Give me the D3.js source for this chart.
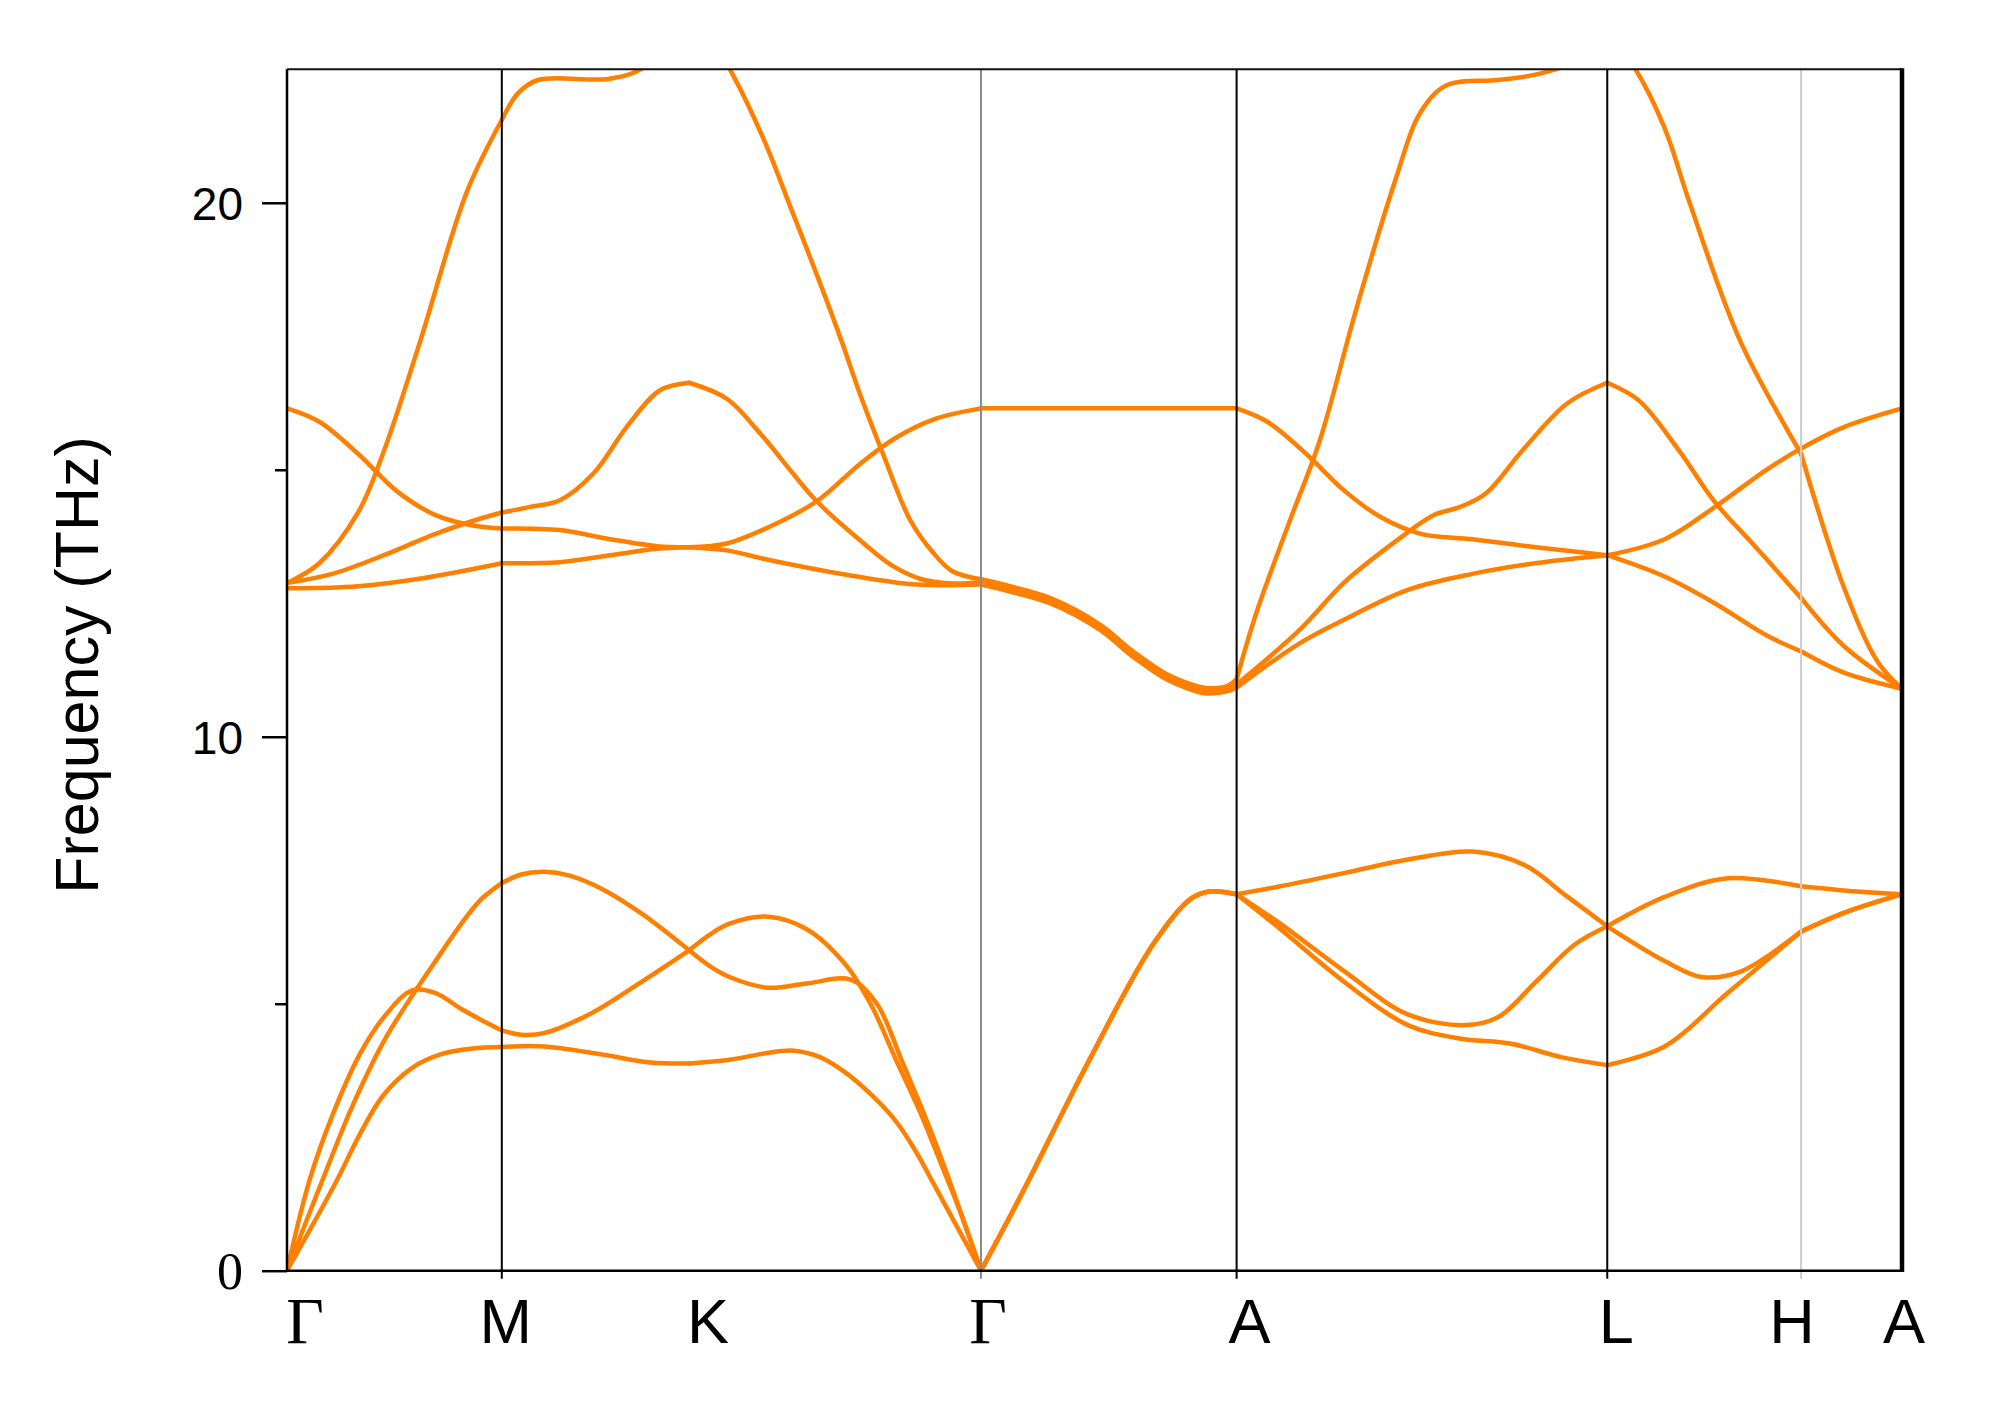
<!DOCTYPE html>
<html><head><meta charset="utf-8">
<script src="https://cdn.jsdelivr.net/npm/d3@7"></script>
<style>html,body{margin:0;padding:0;background:#fff;}</style>
</head><body>
<svg id="chart" width="2007" height="1413"></svg>
<script>
// ---------- DATA ----------
const kTicks = [0, 0.133, 0.249, 0.4297, 0.588, 0.8175, 0.9375, 1];
const kLabels = ["Γ", "M", "K", "Γ", "A", "L", "H", "A"];
const yMajorTicks = [0, 10, 20];
const yMinorTicks = [5, 15];
const yTitle = "Frequency (THz)";

const band1 = [[0,0],[0.031,1.7],[0.045,2.55],[0.060,3.3],[0.0775,3.8],[0.095,4.05],[0.115,4.16],[0.133,4.19],
  [0.159,4.2],[0.195,4.05],[0.225,3.9],[0.249,3.88],
  [0.274,3.95],[0.298,4.08],[0.3137,4.12],[0.330,4.0],[0.3454,3.72],[0.361,3.32],[0.377,2.8],[0.390,2.2],[0.400,1.65],[0.4297,0],
  [0.456,1.5],[0.496,3.9],[0.536,6.1],[0.559,6.95],[0.571,7.1],[0.588,7.05],
  [0.615,6.4],[0.655,5.4],[0.694,4.6],[0.726,4.35],[0.758,4.25],[0.789,4.0],[0.8175,3.85],
  [0.853,4.2],[0.892,5.2],[0.9375,6.35],
  [0.964,6.7],[1,7.05]];
const band2 = [[0,0],[0.014,1.7],[0.028,2.9],[0.045,4.05],[0.060,4.75],[0.0775,5.25],[0.092,5.2],[0.108,4.9],[0.120,4.7],[0.133,4.5],
  [0.145,4.42],[0.159,4.45],[0.187,4.8],[0.219,5.4],[0.249,6.0],
  [0.262,6.3],[0.274,6.5],[0.298,6.63],[0.3216,6.4],[0.3454,5.75],[0.3613,5.0],[0.3771,3.95],[0.393,2.9],[0.405,2.0],[0.4175,1.05],[0.4297,0],
  [0.456,1.5],[0.496,3.9],[0.536,6.1],[0.559,6.95],[0.571,7.1],[0.588,7.05],
  [0.615,6.5],[0.655,5.6],[0.694,4.8],[0.730,4.6],[0.750,4.75],[0.773,5.4],[0.797,6.1],[0.8175,6.45],
  [0.853,5.8],[0.876,5.5],[0.900,5.6],[0.9375,6.35],
  [0.964,6.7],[1,7.05]];
const band3 = [[0,0],[0.022,1.7],[0.040,3.05],[0.060,4.3],[0.0775,5.15],[0.092,5.8],[0.108,6.5],[0.120,6.95],[0.133,7.26],
  [0.145,7.42],[0.159,7.47],[0.175,7.4],[0.195,7.15],[0.219,6.7],[0.249,6.0],
  [0.262,5.7],[0.274,5.5],[0.298,5.3],[0.322,5.38],[0.349,5.45],[0.3652,5.0],[0.3811,3.9],[0.3969,2.75],[0.4088,1.8],[0.4297,0],
  [0.456,1.5],[0.496,3.9],[0.536,6.1],[0.559,6.95],[0.571,7.1],[0.588,7.05],
  [0.615,7.2],[0.655,7.45],[0.694,7.7],[0.734,7.85],[0.766,7.6],[0.793,7.0],[0.8175,6.45],
  [0.853,7.0],[0.892,7.35],[0.9375,7.2],
  [0.972,7.1],[1,7.05]];
const band4 = [[0,12.88],[0.020,13.25],[0.044,14.2],[0.060,15.35],[0.0824,17.4],[0.1113,20.2],[0.133,21.55],
  [0.143,22.05],[0.1554,22.3],[0.199,22.32],[0.219,22.5],[0.249,23.3],
  [0.262,23.1],[0.276,22.4],[0.295,21.2],[0.312,19.9],[0.330,18.5],[0.3435,17.4],[0.355,16.4],[0.369,15.3],[0.386,14.05],[0.400,13.45],[0.412,13.1],[0.4297,12.95],
  [0.4477,12.82],[0.4724,12.6],[0.5034,12.1],[0.5238,11.6],[0.5449,11.17],[0.561,10.97],[0.5697,10.91],[0.582,10.95],[0.588,11.08],
  [0.600,12.3],[0.621,14.05],[0.639,15.5],[0.662,18.0],[0.686,20.4],[0.702,21.7],[0.718,22.2],[0.750,22.3],[0.773,22.4],[0.793,22.6],[0.8175,23.2],
  [0.835,22.5],[0.853,21.4],[0.8685,20.0],[0.900,17.4],[0.9375,15.3],
  [0.964,12.8],[0.985,11.4],[1,10.9]];
const band5 = [[0,16.15],[0.020,15.9],[0.044,15.3],[0.068,14.6],[0.092,14.15],[0.116,13.95],[0.133,13.9],
  [0.169,13.87],[0.200,13.7],[0.229,13.57],[0.249,13.55],
  [0.2723,13.62],[0.300,13.95],[0.328,14.41],[0.3548,15.11],[0.377,15.6],[0.401,15.95],[0.4297,16.15],
  [0.500,16.15],[0.588,16.15],
  [0.607,15.9],[0.631,15.3],[0.655,14.6],[0.678,14.1],[0.702,13.8],[0.734,13.7],[0.773,13.55],[0.8175,13.4],
  [0.853,13.7],[0.884,14.3],[0.916,15.0],[0.9375,15.4],
  [0.964,15.8],[1,16.15]];
const band6 = [[0,12.88],[0.028,13.05],[0.060,13.4],[0.092,13.8],[0.116,14.05],[0.133,14.2],
  [0.150,14.3],[0.169,14.43],[0.1897,14.93],[0.2103,15.8],[0.231,16.49],[0.249,16.63],
  [0.2723,16.33],[0.293,15.68],[0.3133,14.93],[0.328,14.41],[0.3548,13.68],[0.375,13.2],[0.393,12.95],[0.413,12.87],[0.4297,12.9],
  [0.4477,12.77],[0.4724,12.55],[0.5034,12.05],[0.5238,11.55],[0.5449,11.12],[0.561,10.92],[0.5697,10.86],[0.582,10.9],[0.588,10.98],
  [0.627,12.0],[0.655,12.9],[0.686,13.65],[0.710,14.15],[0.726,14.3],[0.742,14.55],[0.766,15.4],[0.793,16.25],[0.8175,16.63],
  [0.837,16.3],[0.861,15.4],[0.884,14.4],[0.908,13.6],[0.9375,12.6],
  [0.964,11.7],[1,10.9]];
const band7 = [[0,12.78],[0.044,12.82],[0.084,12.97],[0.133,13.25],
  [0.169,13.27],[0.200,13.4],[0.229,13.52],[0.249,13.55],
  [0.2723,13.49],[0.300,13.3],[0.3548,12.99],[0.390,12.85],[0.4297,12.85],
  [0.4477,12.72],[0.4724,12.5],[0.5034,12.0],[0.5238,11.5],[0.5449,11.07],[0.561,10.87],[0.5697,10.81],[0.582,10.85],[0.588,10.92],
  [0.627,11.75],[0.655,12.2],[0.694,12.75],[0.734,13.05],[0.773,13.25],[0.8175,13.4],
  [0.853,13.0],[0.884,12.5],[0.916,11.9],[0.9375,11.6],
  [0.964,11.2],[1,10.9]];
const bands = [band1, band2, band3, band4, band5, band6, band7];

// ---------- LAYOUT / STYLE ----------
const W = 2007, H = 1413;
const plot = {left: 287, right: 1902, top: 69.3, bottom: 1270.7};
const bandColor = "#ff8000";
const tickLineColor = [null, "#000", null, "#8a8a8a", "#000", "#000", "#cdcdcd", null];
const labelShift = [18, 4, 19, 7, 13, 9, -9, 2];
const labelFont = ["Liberation Serif", "Liberation Sans", "Liberation Sans", "Liberation Serif",
                   "Liberation Sans", "Liberation Sans", "Liberation Sans", "Liberation Sans"];

const svg = d3.select("#chart");
const x = d3.scaleLinear().domain([0, 1]).range([plot.left, plot.right]);
const y = d3.scaleLinear().domain([0, 22.5]).range([plot.bottom, plot.top]);

svg.append("rect").attr("width", W).attr("height", H).attr("fill", "#fff");

svg.append("defs").append("clipPath").attr("id", "clip")
  .append("rect").attr("x", plot.left).attr("y", plot.top)
  .attr("width", plot.right - plot.left).attr("height", plot.bottom - plot.top);

// bands, drawn per segment between high-symmetry points
const line = d3.line().x(d => x(d[0])).y(d => y(d[1])).curve(d3.curveCatmullRom.alpha(0.5));
const g = svg.append("g").attr("clip-path", "url(#clip)");
bands.forEach(b => {
  for (let i = 0; i < kTicks.length - 1; i++) {
    const a = kTicks[i] - 1e-9, c = kTicks[i + 1] + 1e-9;
    const pts = b.filter(p => p[0] >= a && p[0] <= c);
    if (pts.length > 1) {
      g.append("path").attr("d", line(pts)).attr("fill", "none")
        .attr("stroke", bandColor).attr("stroke-width", 4.5)
        .attr("stroke-linejoin", "round").attr("stroke-linecap", "round");
    }
  }
});

// vertical high-symmetry lines
svg.append("g").selectAll("line")
  .data(kTicks.map((k, i) => ({k, c: tickLineColor[i]})).filter(d => d.c))
  .join("line")
  .attr("x1", d => x(d.k)).attr("x2", d => x(d.k))
  .attr("y1", plot.top).attr("y2", plot.bottom + 8)
  .attr("stroke", d => d.c).attr("stroke-width", 2);

// y axis (major + minor)
const yAxis = d3.axisLeft(y).tickValues(yMajorTicks).tickSize(25).tickPadding(19).tickFormat(d3.format("d"));
const ga = svg.append("g").attr("transform", `translate(${plot.left},0)`).call(yAxis);
ga.select(".domain").remove();
ga.selectAll(".tick line").attr("stroke", "#000").attr("stroke-width", 2.5);
ga.selectAll(".tick text").attr("fill", "#000")
  .style("font-family", d => d === 0 ? "Liberation Serif" : "Liberation Sans")
  .style("font-size", d => d === 0 ? "52px" : "46px")
  .attr("dy", d => d === 0 ? "0.34em" : "0.36em");
const yMinor = d3.axisLeft(y).tickValues(yMinorTicks).tickSize(12).tickFormat("");
const gm = svg.append("g").attr("transform", `translate(${plot.left},0)`).call(yMinor);
gm.select(".domain").remove();
gm.selectAll(".tick line").attr("stroke", "#000").attr("stroke-width", 2.5);

// frame
svg.append("line").attr("x1", plot.left).attr("x2", plot.left).attr("y1", plot.top).attr("y2", plot.bottom)
  .attr("stroke", "#000").attr("stroke-width", 2.5);
svg.append("line").attr("x1", plot.left - 1).attr("x2", plot.right + 2).attr("y1", plot.bottom).attr("y2", plot.bottom)
  .attr("stroke", "#000").attr("stroke-width", 2.5);
svg.append("line").attr("x1", plot.left).attr("x2", plot.right).attr("y1", plot.top).attr("y2", plot.top)
  .attr("stroke", "#111").attr("stroke-width", 2);
svg.append("line").attr("x1", plot.right).attr("x2", plot.right).attr("y1", plot.top - 1).attr("y2", plot.bottom + 1)
  .attr("stroke", "#000").attr("stroke-width", 4.5);

// x labels
svg.append("g").selectAll("text")
  .data(kTicks.map((k, i) => ({k, i})))
  .join("text")
  .attr("x", d => x(d.k) + labelShift[d.i]).attr("y", 1343)
  .attr("text-anchor", "middle")
  .style("font-family", d => labelFont[d.i])
  .style("font-size", d => labelFont[d.i] === "Liberation Serif" ? "65px" : "63px")
  .attr("fill", "#000")
  .text(d => kLabels[d.i]);

// y title
svg.append("text")
  .attr("transform", "translate(98,665) rotate(-90)")
  .attr("text-anchor", "middle")
  .style("font-family", "Liberation Sans").style("font-size", "61px")
  .attr("fill", "#000")
  .text(yTitle);
</script>
</body></html>
